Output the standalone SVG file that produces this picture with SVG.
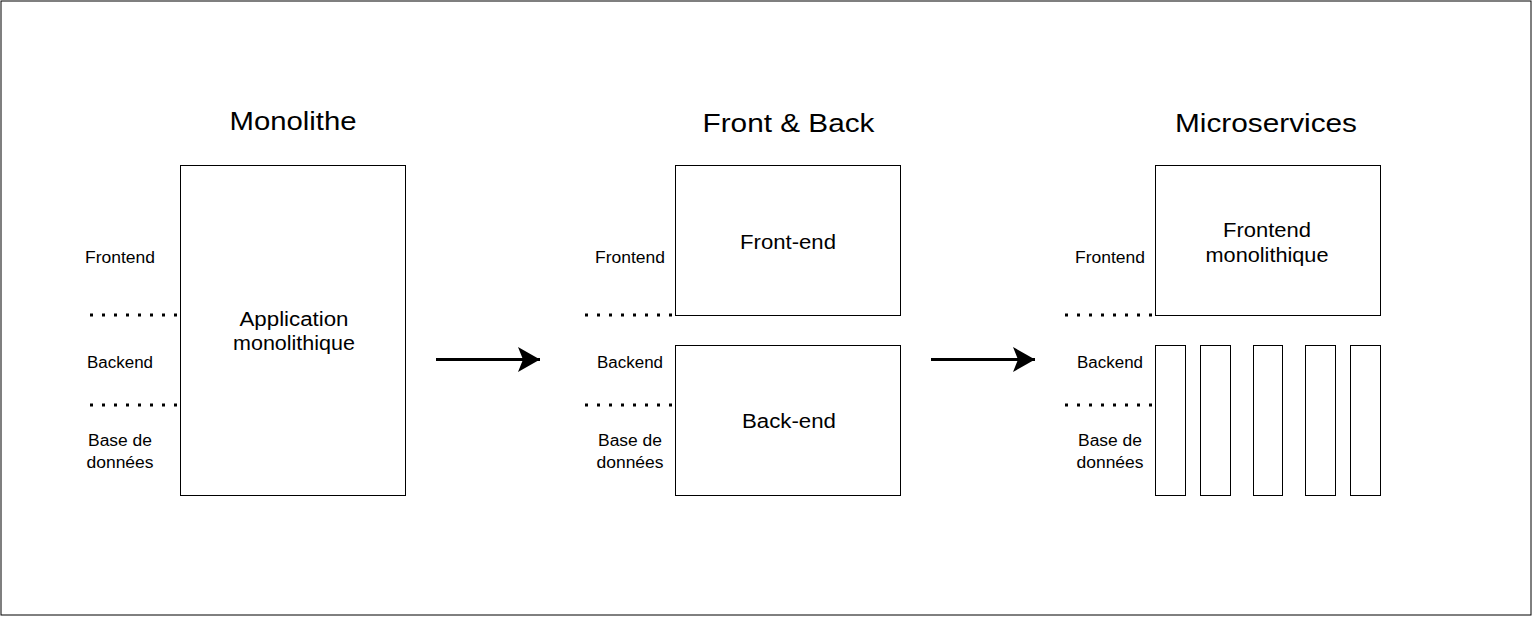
<svg xmlns="http://www.w3.org/2000/svg" width="1532" height="618" viewBox="0 0 1532 618">
<style>
text{font-family:"Liberation Sans",Arial,Helvetica,sans-serif;fill:#000;text-anchor:middle}
.t{font-size:26px}
.b{font-size:20px}
.s{font-size:16px}
.box{fill:#fff;stroke:#000;stroke-width:1}
.dot{fill:none;stroke:#000;stroke-width:3;stroke-dasharray:3 9}
.arr{fill:none;stroke:#000;stroke-width:3}
</style>
<defs>
<marker id="ah" markerUnits="userSpaceOnUse" markerWidth="24" markerHeight="26" refX="22" refY="12.5" orient="auto" viewBox="0 0 24 26">
<path d="M22,12.5 L0,0 L5,12.5 L0,25 Z" fill="#000"/>
</marker>
</defs>
<rect id="frame" x="1" y="1" width="1530" height="614" fill="#fff" stroke="#000" stroke-width="1"/>

<g id="titles">
<text class="t" x="293" y="130" textLength="127" lengthAdjust="spacingAndGlyphs">Monolithe</text>
<text class="t" x="788.5" y="131.5" textLength="172" lengthAdjust="spacingAndGlyphs">Front &amp; Back</text>
<text class="t" x="1266" y="131.5" textLength="182" lengthAdjust="spacingAndGlyphs">Microservices</text>
</g>

<g id="layer-labels">
<text class="s" x="120" y="262.5" textLength="70" lengthAdjust="spacingAndGlyphs">Frontend</text>
<text class="s" x="120" y="367.5" textLength="66" lengthAdjust="spacingAndGlyphs">Backend</text>
<text class="s" x="120" y="446" textLength="64" lengthAdjust="spacingAndGlyphs">Base de</text>
<text class="s" x="120" y="467.5" textLength="67" lengthAdjust="spacingAndGlyphs">données</text>
<text class="s" x="630" y="262.5" textLength="70" lengthAdjust="spacingAndGlyphs">Frontend</text>
<text class="s" x="630" y="367.5" textLength="66" lengthAdjust="spacingAndGlyphs">Backend</text>
<text class="s" x="630" y="446" textLength="64" lengthAdjust="spacingAndGlyphs">Base de</text>
<text class="s" x="630" y="467.5" textLength="67" lengthAdjust="spacingAndGlyphs">données</text>
<text class="s" x="1110" y="262.5" textLength="70" lengthAdjust="spacingAndGlyphs">Frontend</text>
<text class="s" x="1110" y="367.5" textLength="66" lengthAdjust="spacingAndGlyphs">Backend</text>
<text class="s" x="1110" y="446" textLength="64" lengthAdjust="spacingAndGlyphs">Base de</text>
<text class="s" x="1110" y="467.5" textLength="67" lengthAdjust="spacingAndGlyphs">données</text>
</g>

<g id="separators">
<line class="dot" x1="90" y1="315" x2="180" y2="315"/>
<line class="dot" x1="90" y1="405" x2="180" y2="405"/>
<line class="dot" x1="585" y1="315" x2="676" y2="315"/>
<line class="dot" x1="585" y1="405" x2="676" y2="405"/>
<line class="dot" x1="1065" y1="315" x2="1156" y2="315"/>
<line class="dot" x1="1065" y1="405" x2="1156" y2="405"/>
</g>

<g id="monolith">
<rect class="box" x="180.5" y="165.5" width="225" height="330"/>
<text class="b" x="294" y="326" textLength="109" lengthAdjust="spacingAndGlyphs">Application</text>
<text class="b" x="294" y="350" textLength="122" lengthAdjust="spacingAndGlyphs">monolithique</text>
</g>

<g id="front-end">
<rect class="box" x="675.5" y="165.5" width="225" height="150"/>
<text class="b" x="788" y="249" textLength="96" lengthAdjust="spacingAndGlyphs">Front-end</text>
</g>

<g id="back-end">
<rect class="box" x="675.5" y="345.5" width="225" height="150"/>
<text class="b" x="789" y="428" textLength="94" lengthAdjust="spacingAndGlyphs">Back-end</text>
</g>

<g id="frontend-monolithique">
<rect class="box" x="1155.5" y="165.5" width="225" height="150"/>
<text class="b" x="1267" y="237" textLength="88" lengthAdjust="spacingAndGlyphs">Frontend</text>
<text class="b" x="1267" y="261.5" textLength="123" lengthAdjust="spacingAndGlyphs">monolithique</text>
</g>

<g id="microservice-1"><rect class="box" x="1155.5" y="345.5" width="30" height="150"/></g>
<g id="microservice-2"><rect class="box" x="1200.5" y="345.5" width="30" height="150"/></g>
<g id="microservice-3"><rect class="box" x="1253.5" y="345.5" width="29" height="150"/></g>
<g id="microservice-4"><rect class="box" x="1305.5" y="345.5" width="30" height="150"/></g>
<g id="microservice-5"><rect class="box" x="1350.5" y="345.5" width="30" height="150"/></g>

<g id="connectors">
<line class="arr" x1="436" y1="359.5" x2="540" y2="359.5" marker-end="url(#ah)"/>
<line class="arr" x1="931" y1="359.5" x2="1035" y2="359.5" marker-end="url(#ah)"/>
</g>
</svg>
